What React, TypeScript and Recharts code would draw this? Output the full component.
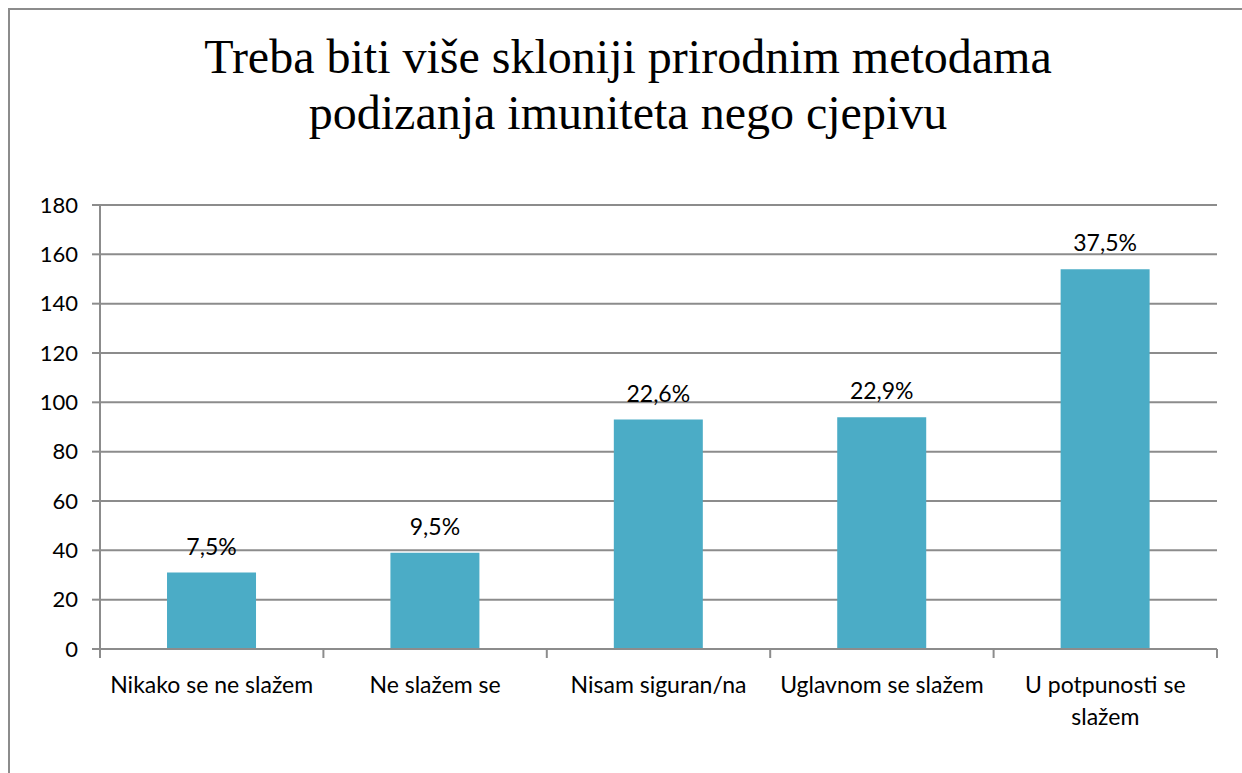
import { Bar, BarChart, CartesianGrid, LabelList, XAxis, YAxis } from 'recharts'

const categories = [
  'Nikako se ne slažem',
  'Ne slažem se',
  'Nisam siguran/na',
  'Uglavnom se slažem',
  'U potpunosti se slažem',
]
const counts = [31, 39, 93, 94, 154]
const shares = ['7,5%', '9,5%', '22,6%', '22,9%', '37,5%']
const yTicks = [0, 20, 40, 60, 80, 100, 120, 140, 160, 180]

const data = categories.map((name, i) => ({ name, count: counts[i], share: shares[i] }))

const W = 1242
const H = 773
const margin = { top: 205, right: 25, bottom: 34, left: 0 }
const Y_AXIS_W = 100
const band = (W - margin.left - margin.right - Y_AXIS_W) / categories.length
const GRAY = '#8c8c8c'
const FONT = 'Lato, "Noto Sans", sans-serif'
const LABEL_SIZE = 23

let ctx: CanvasRenderingContext2D | null = null
function measure(s: string) {
  if (!ctx) ctx = document.createElement('canvas').getContext('2d')
  if (!ctx) return s.length * LABEL_SIZE * 0.5
  ctx.font = `${LABEL_SIZE}px ${FONT}`
  return ctx.measureText(s).width
}

// greedy word wrap, like Excel does for category labels
function wrap(label: string, maxWidth: number) {
  const lines: string[] = []
  let cur = ''
  for (const word of label.split(' ')) {
    const next = cur ? `${cur} ${word}` : word
    if (cur && measure(next) > maxWidth) {
      lines.push(cur)
      cur = word
    } else {
      cur = next
    }
  }
  if (cur) lines.push(cur)
  return lines
}

function CategoryTick(props: any) {
  const { x, y, payload, index } = props
  const left = x - band / 2
  const right = x + band / 2
  const lines = wrap(String(payload.value), band - 4)
  return (
    <g>
      <line x1={left} y1={y - 8} x2={left} y2={y + 1} stroke={GRAY} strokeWidth={2} />
      {index === categories.length - 1 ? (
        <line x1={right} y1={y - 8} x2={right} y2={y + 1} stroke={GRAY} strokeWidth={2} />
      ) : null}
      <text x={x} y={y + 36} textAnchor="middle" fontSize={LABEL_SIZE} fontFamily={FONT} fill="#000">
        {lines.map((line, i) => (
          <tspan key={line} x={x} dy={i === 0 ? 0 : 32}>
            {line}
          </tspan>
        ))}
      </text>
    </g>
  )
}

export default function App() {
  return (
    <div style={{ position: 'relative', width: W, height: H, overflow: 'hidden', background: '#fff' }}>
      <style>{'body{margin:0;overflow:hidden}'}</style>
      <div
        style={{
          position: 'absolute',
          left: 8,
          top: 8,
          width: 1400,
          height: 900,
          border: `2px solid ${GRAY}`,
          boxSizing: 'border-box',
        }}
      />
      <div
        style={{
          position: 'absolute',
          left: 0,
          top: 29,
          width: 1256,
          textAlign: 'center',
          fontFamily: '"Liberation Serif", "Times New Roman", serif',
          fontSize: 48,
          lineHeight: '56px',
          color: '#000',
        }}
      >
        Treba biti više skloniji prirodnim metodama
        <br />
        podizanja imuniteta nego cjepivu
      </div>
      <div style={{ position: 'absolute', left: 0, top: 0 }}>
        <BarChart width={W} height={H} data={data} margin={margin} barCategoryGap="30%">
          <CartesianGrid vertical={false} stroke={GRAY} strokeWidth={2} />
          <XAxis
            dataKey="name"
            height={90}
            axisLine={{ stroke: GRAY, strokeWidth: 2 }}
            tickLine={false}
            tick={<CategoryTick />}
            interval={0}
          />
          <YAxis
            width={Y_AXIS_W}
            domain={[0, 180]}
            ticks={yTicks}
            interval={0}
            axisLine={{ stroke: GRAY, strokeWidth: 2 }}
            tickLine={{ stroke: GRAY, strokeWidth: 2 }}
            tickSize={8}
            tickMargin={14}
            tick={{ fill: '#000', fontSize: 22, fontFamily: FONT }}
          />
          <Bar dataKey="count" fill="#4bacc6" isAnimationActive={false}>
            <LabelList dataKey="share" position="top" offset={18} fill="#000" fontSize={23} fontFamily={FONT} />
          </Bar>
        </BarChart>
      </div>
    </div>
  )
}
